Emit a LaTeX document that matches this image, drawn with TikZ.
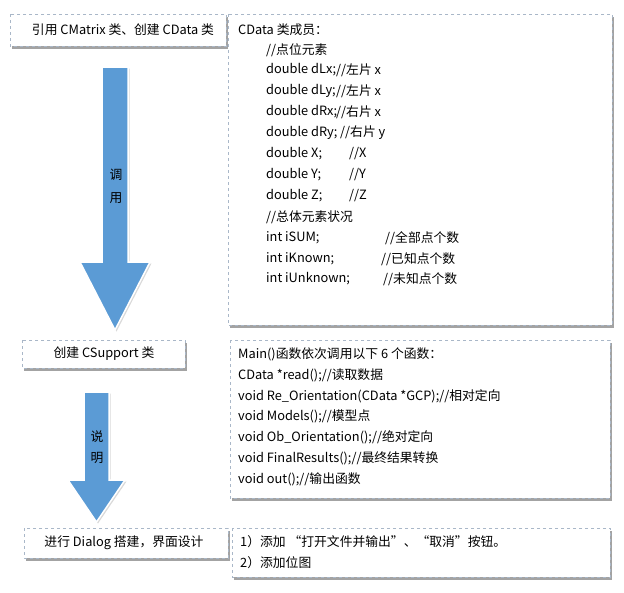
\documentclass[tikz,border=0pt]{standalone}
\usepackage{fontspec}
\setmainfont{Noto Sans CJK SC}
\usetikzlibrary{shadows}
\definecolor{arrblue}{HTML}{5B9BD5}
\definecolor{bord}{HTML}{A9B7C8}
\tikzset{
 box/.style={draw=bord, dashed, fill=white, line width=0.6pt, drop shadow={shadow xshift=1.5pt,shadow yshift=-2.5pt,opacity=0.6,fill=black!60}},
 txt/.style={anchor=west, inner sep=0pt, font=\fontsize{12.8}{14}\selectfont},
 ctxt/.style={inner sep=0pt, font=\fontsize{12.8}{14}\selectfont},
 bigarrow/.style={fill=arrblue, draw=white, line width=1.5pt, drop shadow={shadow xshift=1.5pt,shadow yshift=-1.5pt,opacity=0.3}}
}
\begin{document}
\begin{tikzpicture}[x=1pt,y=-1pt]
\useasboundingbox (0,0) rectangle (624,592);
% arrows
\path[bigarrow] (102,67) -- (128,67) -- (128,262) -- (150,262) -- (115,330) -- (80,262) -- (102,262) -- cycle;
\node[ctxt] (a1) at (116,175) {调};
\node[ctxt] (a1b) at (116,198) {用};
\path[bigarrow] (84,392) -- (109,392) -- (109,480) -- (125,480) -- (96.5,522) -- (68,480) -- (84,480) -- cycle;
\node[ctxt] (a2) at (97,437) {说};
\node[ctxt] (a2b) at (97,458) {明};
% left boxes
\path[box] (10,14) rectangle (226,46);
\node[ctxt] (b1) at (123,30) {引用 CMatrix 类、创建 CData 类};
\path[box] (22,340) rectangle (185,368);
\node[ctxt] (b2) at (104,354) {创建 CSupport 类};
\path[box] (24,528) rectangle (228,558);
\node[ctxt] (b3) at (124,543) {进行 Dialog 搭建，界面设计};
% right box 1
\path[box] (228,14) rectangle (612,325);
\node[txt] (r0) at (238,30) {CData 类成员：};
\node[txt] (r1) at (266,50) {//点位元素};
\foreach \y/\a/\b in {70/double dLx;/{//左片 x},91/double dLy;/{//左片 x},112/double dRx;/{//右片 x}}{
 \node[txt] at (266,\y) {\a}; \node[txt] at (336,\y) {\b};}
\node[txt] at (266,133) {double dRy;}; \node[txt] at (340,133) {//右片 y};
\node[txt] at (266,154) {double X;}; \node[txt] at (349,154) {//X};
\node[txt] at (266,175) {double Y;}; \node[txt] at (349,175) {//Y};
\node[txt] at (266,196) {double Z;}; \node[txt] at (349,196) {//Z};
\node[txt] at (266,217) {//总体元素状况};
\node[txt] at (266,238) {int iSUM;}; \node[txt] at (385,238) {//全部点个数};
\node[txt] at (266,259) {int iKnown;}; \node[txt] at (381,259) {//已知点个数};
\node[txt] at (266,279) {int iUnknown;}; \node[txt] at (383,279) {//未知点个数};
% right box 2
\path[box] (230,340) rectangle (610,498);
\node[txt] at (238,354) {Main()函数依次调用以下 6 个函数：};
\node[txt] at (238,375) {CData *read();//读取数据};
\node[txt] at (238,396) {void Re\_Orientation(CData *GCP);//相对定向};
\node[txt] at (238,416) {void Models();//模型点};
\node[txt] at (238,437) {void Ob\_Orientation();//绝对定向};
\node[txt] at (238,458) {void FinalResults();//最终结果转换};
\node[txt] at (238,479) {void out();//输出函数};
% right box 3
\path[box] (232,528) rectangle (610,577);
\node[txt] at (240,542) {1）添加 “打开文件并输出”、“取消”按钮。};
\node[txt] at (240,563) {2）添加位图};
\end{tikzpicture}
\end{document}
